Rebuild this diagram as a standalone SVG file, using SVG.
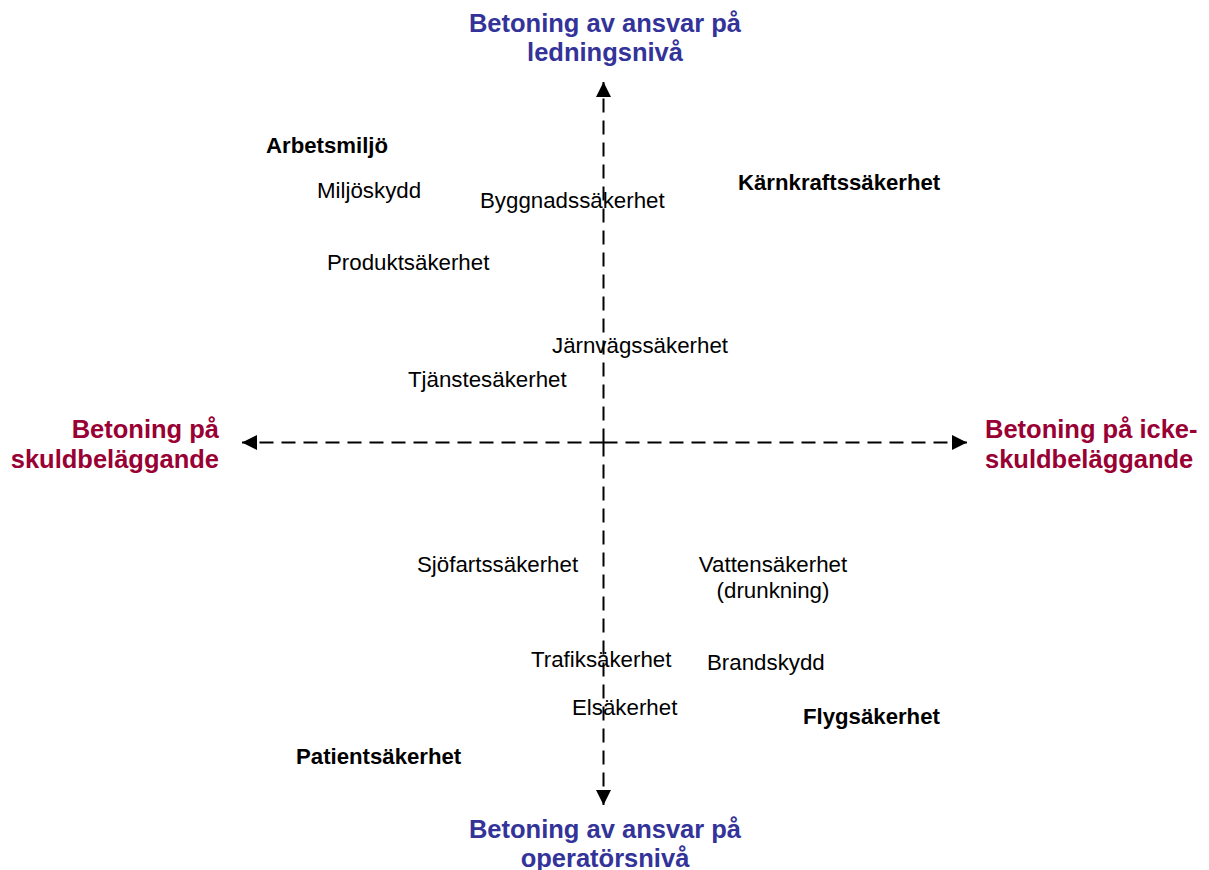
<svg xmlns="http://www.w3.org/2000/svg" width="1209" height="870" viewBox="0 0 1209 870">
<style>
.t{font-family:"Liberation Sans",Arial,sans-serif;font-size:22.3px;fill:#000}
.b{font-family:"Liberation Sans",Arial,sans-serif;font-size:22.2px;font-weight:bold;fill:#000}
.ax{font-family:"Liberation Sans",Arial,sans-serif;font-size:25.5px;font-weight:bold}
.blue{fill:#333399}
.red{fill:#990033}
.axis{stroke:#000;stroke-width:2;stroke-dasharray:14 8;fill:none}
</style>
<defs>
<marker id="ah" viewBox="0 0 10 10" refX="10" refY="5" markerWidth="15" markerHeight="15" markerUnits="userSpaceOnUse" orient="auto">
<path d="M0,0 L10,5 L0,10 Z" fill="#000"/>
</marker>
</defs>
<rect width="1209" height="870" fill="#fff"/>
<g id="connectors">
<line class="axis" x1="603.5" y1="442.5" x2="603.5" y2="82" marker-end="url(#ah)"/>
<line class="axis" x1="603.5" y1="442.5" x2="603.5" y2="805" marker-end="url(#ah)"/>
<line class="axis" x1="603.5" y1="442.5" x2="242" y2="442.5" marker-end="url(#ah)"/>
<line class="axis" x1="603.5" y1="442.5" x2="967" y2="442.5" marker-end="url(#ah)"/>
</g>
<g id="axis-top"><text class="ax blue" text-anchor="middle" x="605" y="32">Betoning av ansvar på</text><text class="ax blue" text-anchor="middle" x="605" y="61">ledningsnivå</text></g>
<g id="axis-bottom"><text class="ax blue" text-anchor="middle" x="605" y="838">Betoning av ansvar på</text><text class="ax blue" text-anchor="middle" x="605" y="867">operatörsnivå</text></g>
<g id="axis-left"><text class="ax red" text-anchor="end" x="219" y="438">Betoning på</text><text class="ax red" text-anchor="end" x="219" y="468">skuldbeläggande</text></g>
<g id="axis-right"><text class="ax red" x="985" y="438">Betoning på icke-</text><text class="ax red" x="985" y="468">skuldbeläggande</text></g>
<g id="arbetsmiljo"><text class="b" x="266" y="153">Arbetsmiljö</text></g>
<g id="miljoskydd"><text class="t" x="317" y="198">Miljöskydd</text></g>
<g id="byggnad"><text class="t" x="480" y="208">Byggnadssäkerhet</text></g>
<g id="karnkraft"><text class="b" x="738" y="190">Kärnkraftssäkerhet</text></g>
<g id="produkt"><text class="t" x="327" y="270">Produktsäkerhet</text></g>
<g id="jarnvag"><text class="t" x="552" y="353">Järnvägssäkerhet</text></g>
<g id="tjanste"><text class="t" x="408" y="387">Tjänstesäkerhet</text></g>
<g id="sjofart"><text class="t" x="417" y="572">Sjöfartssäkerhet</text></g>
<g id="vatten"><text class="t" text-anchor="middle" x="773" y="572">Vattensäkerhet</text><text class="t" text-anchor="middle" x="773" y="598">(drunkning)</text></g>
<g id="trafik"><text class="t" x="531" y="667">Trafiksäkerhet</text></g>
<g id="brand"><text class="t" x="707" y="670">Brandskydd</text></g>
<g id="el"><text class="t" x="572" y="715">Elsäkerhet</text></g>
<g id="flyg"><text class="b" x="803" y="724">Flygsäkerhet</text></g>
<g id="patient"><text class="b" x="296" y="764">Patientsäkerhet</text></g>
</svg>
